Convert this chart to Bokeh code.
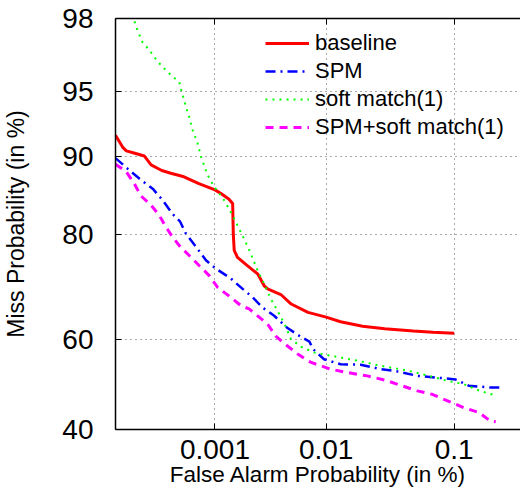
import math
from bokeh.plotting import figure
from bokeh.models import FixedTicker, LinearAxis, Range1d
from bokeh.embed import file_html
from bokeh.resources import INLINE

# ---------------- data (percent) ----------------
baseline_fa = [0.0001, 0.00012, 0.00013, 0.000156, 0.0002, 0.000234, 0.0003, 0.00037, 0.0005,
               0.0007, 0.001, 0.00114, 0.00135, 0.00147, 0.00149, 0.00152, 0.00163, 0.002,
               0.0025, 0.00287, 0.00308, 0.00405, 0.005, 0.007, 0.01, 0.0132, 0.02, 0.03,
               0.05, 0.07, 0.1]
baseline_miss = [91.9, 90.8, 90.5, 90.3, 90.0, 89.1, 88.5, 88.2, 87.8,
                 87.0, 86.25, 85.8, 85.1, 84.5, 80.1, 77.4, 76.2, 74.8,
                 73.25, 71.0, 70.4, 69.3, 67.4, 65.7, 64.7, 63.75, 62.8, 62.25,
                 61.8, 61.5, 61.3]

spm_fa = [0.0001, 0.000134, 0.000177, 0.000243, 0.000306, 0.000386, 0.000456, 0.000523,
          0.000656, 0.000819, 0.00102, 0.00141, 0.00182, 0.00225, 0.00277, 0.00353,
          0.00464, 0.0061, 0.0072, 0.0077, 0.0096, 0.0132, 0.0193, 0.0279, 0.0377,
          0.0536, 0.0753, 0.102, 0.127, 0.179, 0.209]
spm_miss = [89.8, 88.7, 87.6, 86.4, 84.95, 83.05, 82.0, 80.1,
            78.0, 75.7, 74.2, 72.4, 70.4, 68.75, 66.7, 65.0,
            62.4, 60.5, 59.5, 57.9, 55.6, 54.5, 54.4, 53.4, 52.9,
            51.9, 51.5, 51.1, 49.7, 49.3, 49.3]

soft_fa = [0.000150, 0.00017, 0.000192, 0.000224, 0.000252, 0.000296, 0.00037, 0.000449,
           0.00047, 0.000523, 0.000563, 0.000608, 0.000681, 0.000734, 0.00085, 0.000985,
           0.0011, 0.00122, 0.00141, 0.00163, 0.00188, 0.00217, 0.0025, 0.00287, 0.0033,
           0.00378, 0.0044, 0.00497, 0.0061, 0.0079, 0.0109, 0.0181, 0.0279, 0.045,
           0.0636, 0.089, 0.117, 0.153, 0.189]
soft_miss = [98.1, 97.64, 97.25, 96.98, 96.69, 96.33, 95.88, 95.52,
             95.08, 94.03, 93.34, 92.33, 91.19, 89.93, 88.0, 86.6,
             85.8, 84.95, 83.34, 81.4, 79.3, 76.8, 73.87, 71.37, 68.4,
             66.05, 63.1, 60.05, 58.37, 57.1, 56.4, 55.3, 54.15, 53.1,
             52.0, 50.8, 50.05, 48.5, 47.64]

combo_fa = [0.0001, 0.00013, 0.000157, 0.000184, 0.000234, 0.000283, 0.00033, 0.000386,
            0.000449, 0.000563, 0.000703, 0.00088, 0.00106, 0.00141, 0.00175, 0.00209,
            0.00308, 0.00365, 0.0044, 0.0057, 0.00744, 0.0109, 0.015, 0.0218, 0.0315,
            0.0411, 0.0536, 0.0685, 0.0967, 0.117, 0.15, 0.179, 0.195]
combo_miss = [89.18, 88.35, 87.02, 85.5, 84.27, 82.87, 81.15, 79.58,
              78.2, 76.53, 74.78, 72.93, 70.7, 68.75, 67.08, 66.4,
              63.27, 60.65, 58.96, 56.76, 54.9, 53.4, 52.65, 51.9, 50.8,
              49.65, 48.54, 47.8, 45.9, 44.8, 43.7, 41.85, 41.7]

x_tick_vals = [0.001, 0.01, 0.1]
x_tick_labels = ["0.001", "0.01", "0.1"]
y_tick_vals = [40, 60, 80, 90, 95, 98]
y_tick_labels = ["40", "60", "80", "90", "95", "98"]
x_limits = [0.0001, 0.285]
y_limits = [40, 98]


def probit(p):
    lo, hi = -12.0, 12.0
    for _ in range(200):
        mid = 0.5 * (lo + hi)
        if 0.5 * math.erfc(-mid / math.sqrt(2.0)) < p:
            lo = mid
        else:
            hi = mid
    return 0.5 * (lo + hi)


def tx(vals):
    return [probit(v / 100.0) for v in vals]


FONT = "Liberation Sans"

p = figure(width=520, height=489, output_backend="svg", toolbar_location=None,
           x_range=Range1d(*tx(x_limits)), y_range=Range1d(*tx(y_limits)),
           min_border_left=114, min_border_right=0, min_border_top=18, min_border_bottom=60)
p.outline_line_color = None
p.background_fill_color = "white"

xt = FixedTicker(ticks=tx(x_tick_vals))
yt = FixedTicker(ticks=tx(y_tick_vals))

p.xaxis.ticker = xt
p.yaxis.ticker = yt
p.xgrid.ticker = xt
p.ygrid.ticker = yt
p.xaxis.major_label_overrides = {k: v for k, v in zip(tx(x_tick_vals), x_tick_labels)}
p.yaxis.major_label_overrides = {k: v for k, v in zip(tx(y_tick_vals), y_tick_labels)}

for ax in (p.xaxis, p.yaxis):
    ax.major_label_text_font = FONT
    ax.major_label_text_font_size = "28px"
    ax.major_label_text_color = "black"
    ax.axis_label_text_font = FONT
    ax.axis_label_text_font_style = "normal"
    ax.axis_label_text_color = "black"
    ax.axis_line_color = "black"
    ax.axis_line_width = 1.5
    ax.major_tick_in = 6
    ax.major_tick_out = 0
    ax.major_tick_line_color = "black"
    ax.minor_tick_line_color = None

p.xaxis.axis_label = "False Alarm Probability (in %)"
p.yaxis.axis_label = "Miss Probability (in %)"
p.xaxis.axis_label_text_font_size = "22.5px"
p.yaxis.axis_label_text_font_size = "23px"
p.xaxis.major_label_standoff = 10
p.xaxis.axis_label_standoff = 0
p.yaxis.major_label_standoff = 22
p.yaxis.axis_label_standoff = 30

top_axis = LinearAxis(ticker=xt, major_label_text_font_size="1px", major_label_text_alpha=0,
                      major_tick_in=6, major_tick_out=0, axis_line_width=1.5,
                      axis_line_color="black", major_label_standoff=0, minor_tick_line_color=None)
p.add_layout(top_axis, "above")

for g in (p.xgrid, p.ygrid):
    g.grid_line_color = "#555555"
    g.grid_line_dash = "1 4"
    g.grid_line_width = 1

p.line(tx(baseline_fa), tx(baseline_miss), color="#ff0000", line_width=3, legend_label="baseline")
p.line(tx(spm_fa), tx(spm_miss), color="#0000ff", line_width=2.5, line_dash="10 5 2 5",
       legend_label="SPM")
p.line(tx(soft_fa), tx(soft_miss), color="#00ff00", line_width=2, line_dash="2 5",
       legend_label="soft match(1)")
p.line(tx(combo_fa), tx(combo_miss), color="#ff00ff", line_width=3, line_dash="8 6",
       legend_label="SPM+soft match(1)")

lg = p.legend[0]
lg.location = (150, 288)
lg.background_fill_alpha = 0
lg.border_line_alpha = 0
lg.padding = 0
lg.margin = 0
lg.spacing = 0
lg.glyph_width = 44
lg.glyph_height = 28
lg.label_height = 28
lg.label_standoff = 6
lg.label_text_font = FONT
lg.label_text_font_size = "22px"
lg.label_text_color = "black"

open("out.html", "w").write(file_html(p, INLINE))
